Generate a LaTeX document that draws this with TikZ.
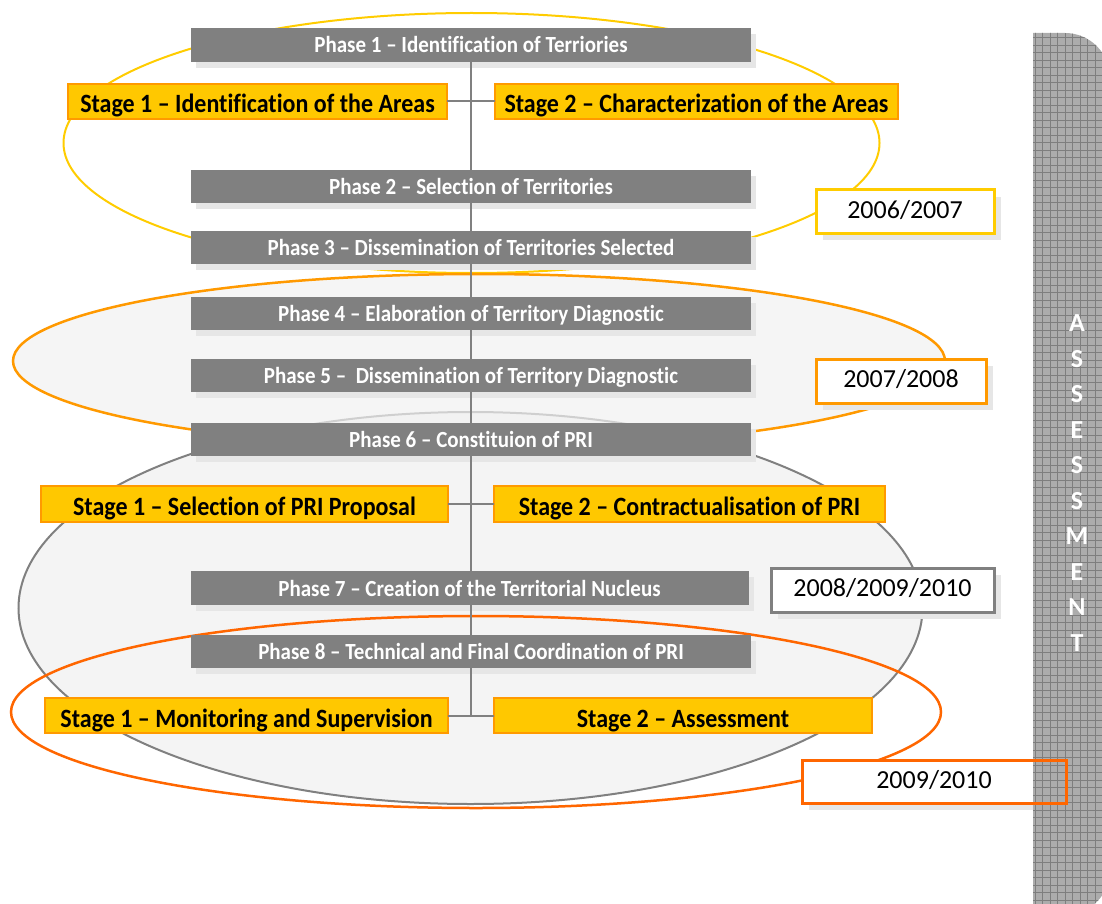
\documentclass[tikz,border=0pt]{standalone}
\usepackage{fontspec}
\setmainfont{Carlito}[Ligatures=NoCommon]
\usetikzlibrary{shadows}
\definecolor{phasegray}{HTML}{808080}
\definecolor{stagefill}{HTML}{FFC800}
\definecolor{stageborder}{HTML}{FF9A00}
\definecolor{ellyellow}{HTML}{FFCC00}
\definecolor{ellorange}{HTML}{FF9900}
\definecolor{ellred}{HTML}{FF6600}
\definecolor{shadowgray}{HTML}{E6E6E6}
\definecolor{ellfill}{HTML}{F1F1F1}
\definecolor{barfill}{HTML}{ACACAC}
\definecolor{barline}{HTML}{7E7E7E}
\newcommand{\vst}[1]{\scalebox{1}[1.1]{#1}}
\begin{document}
\begin{tikzpicture}[x=1pt,y=-1pt,
  phasebox/.style={fill=phasegray, text=white, font=\bfseries\fontsize{21}{24}\selectfont,
    inner sep=0pt, outer sep=0pt, text height=22pt, text depth=6pt,
    general shadow={fill=shadowgray, shadow xshift=5pt, shadow yshift=-6pt}},
  stagebox/.style={fill=stagefill, draw=stageborder, line width=1.5pt,
    font=\bfseries\fontsize{24}{28}\selectfont, inner sep=0pt, outer sep=0pt,
    text height=27pt, text depth=4pt},
  datebox/.style={fill=white, line width=3pt, font=\fontsize{26}{30}\selectfont,
    inner sep=0pt, outer sep=0pt, text height=20pt, text depth=7pt,
    general shadow={fill=shadowgray, shadow xshift=7pt, shadow yshift=-7pt}},
  conn/.style={draw=phasegray, line width=2pt},
  ell/.style={line width=2pt}
]
\useasboundingbox (0,0) rectangle (1102,904);

% ellipses
\draw[ell, draw=ellyellow] (471.5,143) ellipse [x radius=408pt, y radius=130pt];
\draw[ell, draw=phasegray, fill=ellfill, fill opacity=0.8] (470.5,608) ellipse [x radius=452pt, y radius=196pt];
\draw[ell, draw=ellorange, line width=2.5pt, fill=ellfill, fill opacity=0.7] (479,361) ellipse [x radius=466pt, y radius=87pt];
\draw[ell, draw=ellred, line width=2.5pt] (476,712) ellipse [x radius=465pt, y radius=96pt];

% phase boxes
\node[phasebox, minimum width=560pt, minimum height=34pt] (p1) at (471,45) {\vst{Phase 1 – Identification of Terriories}};
\node[phasebox, minimum width=560pt, minimum height=33pt] (p2) at (471,186.5) {\vst{Phase 2 – Selection of Territories}};
\node[phasebox, minimum width=560pt, minimum height=33pt] (p3) at (471,247.5) {\vst{Phase 3 – Dissemination of Territories Selected}};
\node[phasebox, minimum width=560pt, minimum height=33pt] (p4) at (471,313.5) {\vst{Phase 4 – Elaboration of Territory Diagnostic}};
\node[phasebox, minimum width=560pt, minimum height=33pt] (p5) at (471,375.5) {\vst{Phase 5 – \ Dissemination of Territory Diagnostic}};
\node[phasebox, minimum width=560pt, minimum height=33pt] (p6) at (471,439.5) {\vst{Phase 6 – Constituion of PRI}};
\node[phasebox, minimum width=558pt, minimum height=34pt] (p7) at (469.5,588) {\vst{Phase 7 – Creation of the Territorial Nucleus}};
\node[phasebox, minimum width=560pt, minimum height=33pt] (p8) at (471,651.5) {\vst{Phase 8 – Technical and Final Coordination of PRI}};

% stage boxes
\node[stagebox, minimum width=379pt, minimum height=35pt] (s1a) at (257.5,101.5) {\vst{Stage 1 – Identification of the Areas}};
\node[stagebox, minimum width=403pt, minimum height=35pt] (s2a) at (696.5,101.5) {\vst{Stage 2 – Characterization of the Areas}};
\node[stagebox, minimum width=407pt, minimum height=36pt] (s1b) at (244.5,504) {\vst{Stage 1 – Selection of PRI Proposal}};
\node[stagebox, minimum width=391pt, minimum height=36pt] (s2b) at (689.5,504) {\vst{Stage 2 – Contractualisation of PRI}};
\node[stagebox, minimum width=403pt, minimum height=35pt] (s1c) at (246.5,715.5) {\vst{Stage 1 – Monitoring and Supervision}};
\node[stagebox, minimum width=378pt, minimum height=35pt] (s2c) at (683,715.5) {\vst{Stage 2 – Assessment}};

% connectors
\draw[conn] (p1) -- (p2);
\draw[conn] (p2) -- (p3);
\draw[conn] (p3) -- (p4);
\draw[conn] (p4) -- (p5);
\draw[conn] (p5) -- (p6);
\draw[conn] (p6.south) -- (p6.south |- p7.north);
\draw[conn] (p8.north |- p7.south) -- (p8.north);
\coordinate (j3) at (p8.south |- s1c.east);
\draw[conn] (p8.south) -- (j3);
\draw[conn] (s1a) -- (s2a);
\draw[conn] (s1b) -- (s2b);
\draw[conn] (s1c) -- (s2c);

% date boxes
\node[datebox, draw=ellyellow, minimum width=178pt, minimum height=43pt] (d1) at (905,211.5) {2006/2007};
\node[datebox, draw=ellorange, minimum width=170pt, minimum height=44pt] (d2) at (901,381) {2007/2008};
\node[datebox, draw=phasegray, minimum width=223pt, minimum height=44pt] (d3) at (882.5,590) {2008/2009/2010};
\node[datebox, draw=ellred, minimum width=264pt, minimum height=43pt] (d4) at (934,781.5) {2009/2010};

% assessment bar
\begin{scope}
  \path[clip] (1033,915) -- (1033,33) [rounded corners=45pt] -- (1110,33) -- (1110,915) [sharp corners] -- cycle;
  \fill[barfill] (1030,30) rectangle (1110,915);
  \draw[barline, line width=0.8pt, step=7.5pt] (1030,30) grid (1110,915);
\end{scope}
\node[text=white, font=\bfseries\fontsize{26}{35.5}\selectfont, align=center, inner sep=0pt] (assess) at (1077,483)
  {A\\S\\S\\E\\S\\S\\M\\E\\N\\T};
\draw[draw=ellred, line width=3pt] (d4.north west) rectangle (d4.south east);
\end{tikzpicture}
\end{document}
